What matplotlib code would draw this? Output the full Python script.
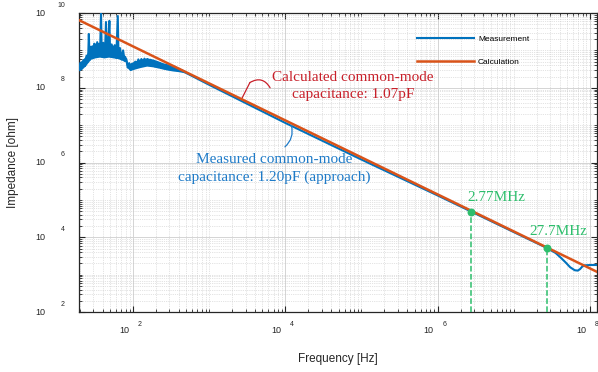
import numpy as np
import matplotlib
matplotlib.use("Agg")
import matplotlib.pyplot as plt
from matplotlib.ticker import FixedLocator, LogLocator, NullFormatter

# measured impedance (log10 of Hz / log10 of ohm)
meas_logf = [1.29, 1.31, 1.33, 1.35, 1.37, 1.39, 1.41, 1.42, 1.43, 1.45,
             1.47, 1.49, 1.51, 1.53, 1.55, 1.57, 1.58, 1.59, 1.61, 1.63,
             1.645, 1.66, 1.675, 1.69, 1.70, 1.72, 1.74, 1.76, 1.78, 1.80,
             1.81, 1.83, 1.85, 1.87, 1.89, 1.91, 1.93, 1.95, 1.97, 1.99,
             2.01, 2.03, 2.05, 2.07, 2.09, 2.11, 2.13, 2.15, 2.17, 2.19,
             2.21, 2.23, 2.25, 2.27, 2.29, 2.31, 2.33, 2.35, 2.37, 2.39,
             2.41, 2.43, 2.45, 2.47, 2.49, 2.51, 2.53, 2.55, 2.57, 2.60,
             3.0, 3.5, 4.0, 4.5, 5.0, 5.5, 6.0, 6.44, 7.0, 7.44,
             7.55, 7.62, 7.68, 7.74, 7.80, 7.84, 7.87, 7.90, 7.93, 8.0, 8.1]
meas_logz = [8.48, 8.66, 8.52, 8.74, 8.58, 8.86, 8.70, 9.44, 8.74, 9.10,
             8.80, 9.18, 8.84, 9.22, 8.86, 9.16, 10.0, 8.84, 9.20, 8.82,
             9.76, 8.86, 9.18, 9.79, 8.84, 9.16, 8.82, 9.14, 8.80, 9.92,
             8.80, 9.06, 8.76, 9.00, 8.72, 8.78, 8.54, 8.66, 8.48, 8.64,
             8.52, 8.70, 8.56, 8.76, 8.60, 8.77, 8.62, 8.78, 8.61, 8.77,
             8.61, 8.75, 8.59, 8.72, 8.57, 8.69, 8.55, 8.66, 8.53, 8.63,
             8.52, 8.61, 8.51, 8.58, 8.50, 8.56, 8.49, 8.54, 8.48, 8.50,
             8.08, 7.57, 7.06, 6.57, 6.08, 5.60, 5.12, 4.69, 4.14, 3.71,
             3.58, 3.45, 3.33, 3.20, 3.12, 3.11, 3.15, 3.22, 3.25, 3.26, 3.26]

# spread of the noisy low-frequency part of the measurement
band_logf = [1.29, 1.33, 1.38, 1.44, 1.50, 1.56, 1.62, 1.68, 1.74, 1.80, 1.85, 1.90,
             1.93, 1.96, 2.02, 2.09, 2.18, 2.26, 2.33, 2.39, 2.46, 2.52, 2.60, 2.68]
band_lo = [8.45, 8.50, 8.60, 8.76, 8.80, 8.82, 8.80, 8.82, 8.80, 8.78, 8.74, 8.70,
           8.52, 8.46, 8.50, 8.54, 8.58, 8.56, 8.53, 8.50, 8.47, 8.45, 8.43, 8.40]
band_hi = [8.69, 8.74, 8.86, 9.12, 9.20, 9.22, 9.16, 9.20, 9.14, 9.05, 8.92, 8.86,
           8.68, 8.66, 8.72, 8.77, 8.80, 8.77, 8.72, 8.67, 8.64, 8.62, 8.54, 8.47]

# calculated impedance (1.07 pF), straight line on log-log axes
calc_logf = [1.29, 8.1]
calc_logz = [9.81, 3.07]

# marked frequencies
mark_f = [2.77e6, 27.7e6]
mark_logz = [4.69, 3.71]
mark_txt = ["2.77MHz", "27.7MHz"]

meas_f = np.power(10.0, meas_logf)
meas_z = np.power(10.0, meas_logz)
calc_f = np.power(10.0, calc_logf)
calc_z = np.power(10.0, calc_logz)
mark_z = np.power(10.0, mark_logz)

blue = "#0072BD"
orange = "#D95319"
green = "#2DBE6C"
red = "#C8202A"
tblue = "#1F7BC8"

fig = plt.figure(figsize=(5.98, 3.72), dpi=100)
ax = fig.add_axes([0.132, 0.161, 0.866, 0.804])

ax.fill_between(np.power(10.0, band_logf), np.power(10.0, band_lo), np.power(10.0, band_hi),
                color=blue, lw=0, zorder=3)
ax.plot(meas_f, meas_z, color=blue, lw=1.5, label="Measurement", zorder=3)
ax.plot(calc_f, calc_z, color=orange, lw=1.8, label="Calculation", zorder=4)

ax.set_xscale("log")
ax.set_yscale("log")
ax.set_xlim(10 ** 1.29, 10 ** 8.09)
ax.set_ylim(1e2, 1e10)

ax.xaxis.set_major_locator(FixedLocator([1e2, 1e4, 1e6, 1e8]))
ax.yaxis.set_major_locator(FixedLocator([1e2, 1e4, 1e6, 1e8, 1e10]))
ax.xaxis.set_minor_locator(LogLocator(base=10, subs=np.arange(1, 10), numticks=100))
ax.yaxis.set_minor_locator(LogLocator(base=10, subs=np.arange(1, 10), numticks=100))
ax.xaxis.set_major_formatter(NullFormatter())
ax.yaxis.set_major_formatter(NullFormatter())
ax.xaxis.set_minor_formatter(NullFormatter())
ax.yaxis.set_minor_formatter(NullFormatter())
ax.tick_params(which="both", direction="in", top=True, right=True, color="#262626")
ax.tick_params(which="major", length=4, width=0.8)
ax.tick_params(which="minor", length=2.5, width=0.6)
ax.grid(True, which="major", color="#d4d4d4", lw=0.7, ls="-")
ax.grid(True, which="minor", color="#c8c8c8", lw=0.5, ls=":")
ax.set_axisbelow(True)
for s in ax.spines.values():
    s.set_color("#262626")
    s.set_linewidth(0.9)

# tick labels written the MATLAB way: "10" and an exponent set apart
for k in [2, 4, 6, 8]:
    ax.annotate("10", xy=(10.0 ** k, 0), xycoords=("data", "axes fraction"),
                xytext=(-4, -18), textcoords="offset pixels", ha="right", va="center",
                fontsize=6.5, family="Liberation Sans", color="#262626", annotation_clip=False)
    ax.annotate(str(k), xy=(10.0 ** k, 0), xycoords=("data", "axes fraction"),
                xytext=(5, -12), textcoords="offset pixels", ha="left", va="center",
                fontsize=5, family="Liberation Sans", color="#262626", annotation_clip=False)
for k in [2, 4, 6, 8, 10]:
    ax.annotate("10", xy=(0, 10.0 ** k), xycoords=("axes fraction", "data"),
                xytext=(-34, 0), textcoords="offset pixels", ha="right", va="center",
                fontsize=6.5, family="Liberation Sans", color="#262626", annotation_clip=False)
    ax.annotate(str(k), xy=(0, 10.0 ** k), xycoords=("axes fraction", "data"),
                xytext=(-14, 8), textcoords="offset pixels", ha="right", va="center",
                fontsize=5, family="Liberation Sans", color="#262626", annotation_clip=False)

ax.set_xlabel("Frequency [Hz]", fontsize=8.5, family="Liberation Sans", color="#262626", labelpad=26)
ax.set_ylabel("Impedance [ohm]", fontsize=8.5, family="Liberation Sans", color="#262626", labelpad=40)

# marked points with dashed drop lines
ax.vlines(mark_f, 1e2, mark_z, colors=green, linestyles="--", lw=1.1, zorder=5)
ax.scatter(mark_f, mark_z, s=22, color=green, zorder=6)
for f, z, t, off in zip(mark_f, mark_z, mark_txt, [(25, 14), (11, 17)]):
    ax.annotate(t, xy=(f, z), xytext=off, textcoords="offset pixels", ha="center", va="center",
                fontsize=11, family="Liberation Serif", color=green)

# callouts
ax.text(10 ** 4.887, 10 ** 8.04, "Calculated common-mode\ncapacitance: 1.07pF", ha="center",
        va="center", fontsize=11, family="Liberation Serif", color=red, linespacing=1.4)
ax.annotate("", xy=(10 ** 3.426, 10 ** 7.70), xytext=(10 ** 3.535, 10 ** 8.14),
            arrowprops=dict(arrowstyle="-", color=red, lw=0.9, shrinkA=0, shrinkB=0))
ax.annotate("", xy=(10 ** 3.535, 10 ** 8.14), xytext=(10 ** 3.80, 10 ** 8.0),
            arrowprops=dict(arrowstyle="-", color=red, lw=0.9, shrinkA=0, shrinkB=0,
                            connectionstyle="arc3,rad=0.5"))

ax.text(10 ** 3.85, 10 ** 5.84, "Measured common-mode\ncapacitance: 1.20pF (approach)", ha="center",
        va="center", fontsize=11, family="Liberation Serif", color=tblue, linespacing=1.4)
ax.annotate("", xy=(10 ** 4.08, 10 ** 6.99), xytext=(10 ** 3.995, 10 ** 6.42),
            arrowprops=dict(arrowstyle="-", color=tblue, lw=0.9, shrinkA=0, shrinkB=0,
                            connectionstyle="arc3,rad=0.3"))

ax.legend(loc="upper left", bbox_to_anchor=(0.645, 0.94), frameon=False,
          prop={"family": "Liberation Sans", "size": 6}, handlelength=6.8, handletextpad=0.5,
          labelspacing=1.8, borderpad=0)

fig.savefig("out.png", dpi=100)
